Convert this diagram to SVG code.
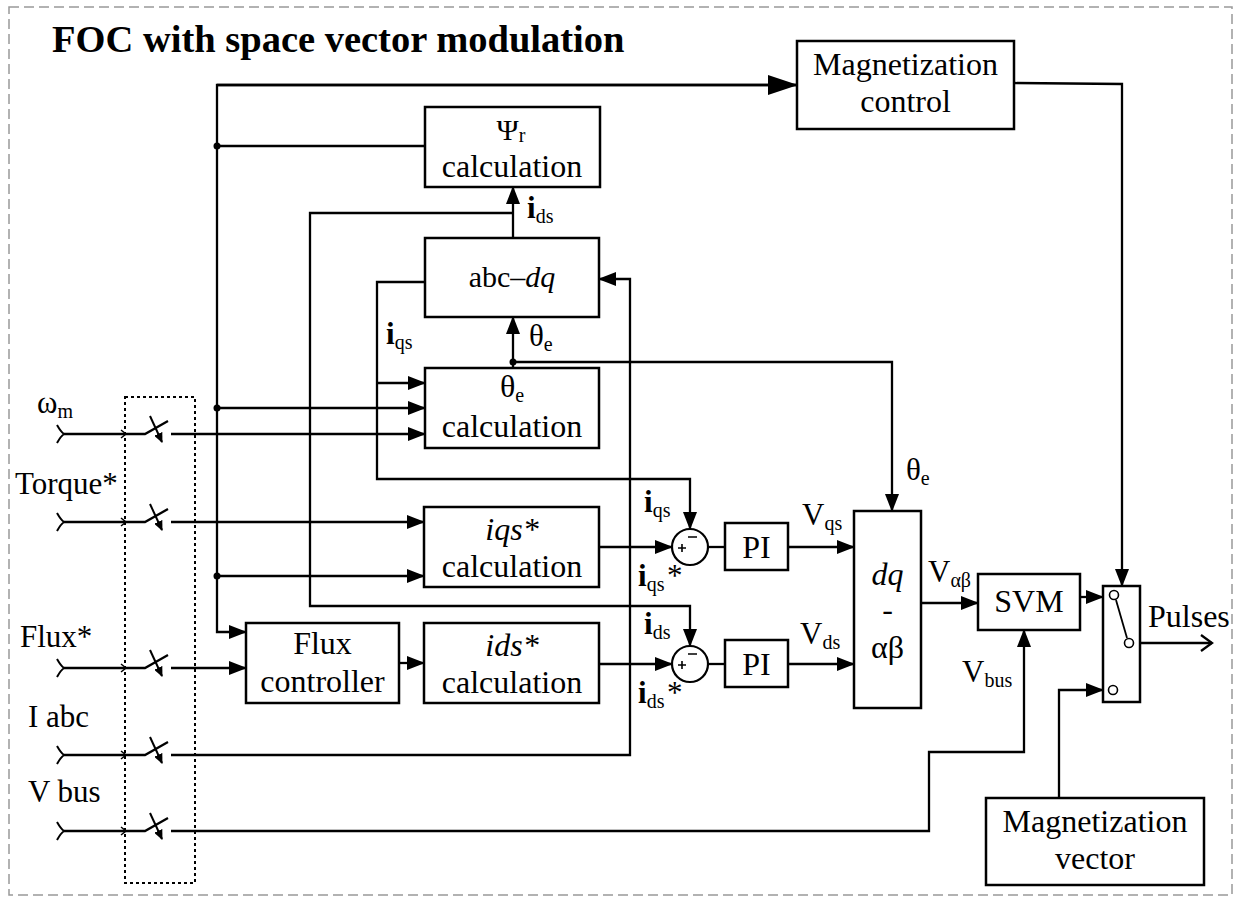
<svg xmlns="http://www.w3.org/2000/svg" width="1236" height="900" viewBox="0 0 1236 900">
<style>
text{font-family:"Liberation Serif","Times New Roman",serif;fill:#000;}
.t{font-size:32px;text-anchor:middle;}
.lb{font-size:31px;}
.sub{font-size:20px;}
.box{fill:#fff;stroke:#000;stroke-width:2.5;}
.c{fill:none;stroke:#000;stroke-width:2.3;}
.a{marker-end:url(#ah);}
</style>
<defs>
<marker id="ah" markerUnits="userSpaceOnUse" markerWidth="18" markerHeight="14" refX="17" refY="7" orient="auto"><path d="M0,0 L18,7 L0,14 z" fill="#000"/></marker>
<marker id="ahb" markerUnits="userSpaceOnUse" markerWidth="30" markerHeight="20" refX="29" refY="10" orient="auto"><path d="M0,0 L30,10 L0,20 z" fill="#000"/></marker>
<marker id="ahs" markerUnits="userSpaceOnUse" markerWidth="10" markerHeight="9" refX="9" refY="4.5" orient="auto"><path d="M0,0 L10,4.5 L0,9 z" fill="#000"/></marker>
<g id="inputsym"><path d="M-7,-9 Q-3,-2 0,0 Q-3,2 -7,9" fill="none" stroke="#000" stroke-width="2"/></g>
</defs>
<rect width="1236" height="900" fill="#fff"/>
<rect x="9" y="7" width="1223" height="888" fill="none" stroke="#999" stroke-width="1.5" stroke-dasharray="10,5"/>
<text x="52" y="52" style="font-size:38.5px;font-weight:bold">FOC with space vector modulation</text>

<g id="connectors">
<path class="c" d="M797,85 H217 V632 H246" style="marker-end:url(#ah)"/>
<path class="c" d="M217,85 H797" style="marker-end:url(#ahb)"/>
<path class="c" d="M217,146 H425"/>
<path class="c a" d="M217,408 H425"/>
<path class="c a" d="M217,576 H424"/>
<path class="c a" d="M171,434 H425"/>
<path class="c a" d="M171,522 H424"/>
<path class="c a" d="M171,668 H246"/>
<path class="c a" d="M171,755 H630 V279 H599"/>
<path class="c a" d="M171,831 H929 V752 H1024 V630"/>
<path class="c a" d="M513,238 V187"/>
<path class="c a" d="M513,213 H310 V606 H690 V646"/>
<path class="c a" d="M425,282 H377 V479 H690 V529"/>
<path class="c a" d="M377,383 H425"/>
<path class="c a" d="M513,368 V317"/>
<path class="c a" d="M513,362 H892 V511"/>
<path class="c a" d="M599,547 H672"/>
<path class="c" d="M708,547 H725"/>
<path class="c a" d="M788,547 H854"/>
<path class="c a" d="M599,664 H672"/>
<path class="c" d="M708,664 H725"/>
<path class="c a" d="M788,664 H854"/>
<path class="c a" d="M399,663 H424"/>
<path class="c a" d="M921,603 H978"/>
<path class="c a" d="M1080,597 H1103"/>
<path class="c a" d="M1014,83 L1122,84 V586"/>
<path class="c a" d="M1059,798 V690 H1103"/>
<path class="c" d="M1140,643 H1212"/>
<path class="c" d="M1201,635 L1212,643 L1201,651"/>
<circle cx="217" cy="146" r="3.5"/>
<circle cx="217" cy="408" r="3.5"/>
<circle cx="217" cy="576" r="3.5"/>
<circle cx="513" cy="362" r="3.5"/>
</g>

<g id="input-switches">
<rect x="125" y="397" width="70" height="486" fill="none" stroke="#000" stroke-width="2" stroke-dasharray="3,3"/>
<g id="sw-omega" transform="translate(0,434)">
<use href="#inputsym" x="64"/>
<path class="c" d="M64,0 H145 L168,-13"/>
<path d="M121,-4 L126,0 L121,4" fill="none" stroke="#000" stroke-width="1.5"/>
<path d="M150,-18 L162,8" stroke="#000" stroke-width="2" style="marker-end:url(#ahs)"/>
</g>
<g id="sw-torque" transform="translate(0,522)">
<use href="#inputsym" x="64"/>
<path class="c" d="M64,0 H145 L168,-13"/>
<path d="M121,-4 L126,0 L121,4" fill="none" stroke="#000" stroke-width="1.5"/>
<path d="M150,-18 L162,8" stroke="#000" stroke-width="2" style="marker-end:url(#ahs)"/>
</g>
<g id="sw-flux" transform="translate(0,668)">
<use href="#inputsym" x="64"/>
<path class="c" d="M64,0 H145 L168,-13"/>
<path d="M121,-4 L126,0 L121,4" fill="none" stroke="#000" stroke-width="1.5"/>
<path d="M150,-18 L162,8" stroke="#000" stroke-width="2" style="marker-end:url(#ahs)"/>
</g>
<g id="sw-iabc" transform="translate(0,755)">
<use href="#inputsym" x="64"/>
<path class="c" d="M64,0 H145 L168,-13"/>
<path d="M121,-4 L126,0 L121,4" fill="none" stroke="#000" stroke-width="1.5"/>
<path d="M150,-18 L162,8" stroke="#000" stroke-width="2" style="marker-end:url(#ahs)"/>
</g>
<g id="sw-vbus" transform="translate(0,831)">
<use href="#inputsym" x="64"/>
<path class="c" d="M64,0 H145 L168,-13"/>
<path d="M121,-4 L126,0 L121,4" fill="none" stroke="#000" stroke-width="1.5"/>
<path d="M150,-18 L162,8" stroke="#000" stroke-width="2" style="marker-end:url(#ahs)"/>
</g>
<text class="lb" x="37" y="413">ω<tspan class="sub" dy="5">m</tspan></text>
<text class="lb" x="15" y="494">Torque*</text>
<text class="lb" x="20" y="647">Flux*</text>
<text class="lb" x="28" y="727">I abc</text>
<text class="lb" x="28" y="802">V bus</text>
</g>

<g id="mag-control">
<rect class="box" x="797" y="41" width="217" height="88"/>
<text class="t" x="905.5" y="75">Magnetization</text>
<text class="t" x="905.5" y="112">control</text>
</g>
<g id="psi-calc">
<rect class="box" x="425" y="107" width="175" height="80"/>
<text class="t" x="511" y="140" style="font-size:30px">Ψ<tspan class="sub" dy="2">r</tspan></text>
<text class="t" x="512" y="177">calculation</text>
</g>
<g id="abc-dq">
<rect class="box" x="425" y="238" width="174" height="79"/>
<text class="t" x="512" y="287" style="font-size:30px">abc–<tspan font-style="italic">dq</tspan></text>
</g>
<g id="theta-calc">
<rect class="box" x="425" y="368" width="174" height="80"/>
<text class="t" x="512" y="397">θ<tspan class="sub" dy="5">e</tspan></text>
<text class="t" x="512" y="437">calculation</text>
</g>
<g id="iqs-calc">
<rect class="box" x="424" y="507" width="175" height="80"/>
<text class="t" x="512" y="540" font-style="italic">iqs*</text>
<text class="t" x="512" y="577">calculation</text>
</g>
<g id="flux-controller">
<rect class="box" x="246" y="623" width="153" height="80"/>
<text class="t" x="322.5" y="654">Flux</text>
<text class="t" x="322.5" y="692">controller</text>
</g>
<g id="ids-calc">
<rect class="box" x="424" y="623" width="175" height="80"/>
<text class="t" x="512" y="656" font-style="italic">ids*</text>
<text class="t" x="512" y="693">calculation</text>
</g>
<g id="sum-q">
<circle cx="690" cy="547" r="18" fill="#fff" stroke="#000" stroke-width="2.2"/>
<path d="M688,537 H697 M678,548 H686 M682,544 V552" stroke="#000" stroke-width="1.6"/>
</g>
<g id="sum-d">
<circle cx="690" cy="664" r="18" fill="#fff" stroke="#000" stroke-width="2.2"/>
<path d="M688,654 H697 M678,665 H686 M682,661 V669" stroke="#000" stroke-width="1.6"/>
</g>
<g id="pi-q">
<rect class="box" x="725" y="523" width="63" height="47"/>
<text class="t" x="756.5" y="558">PI</text>
</g>
<g id="pi-d">
<rect class="box" x="725" y="640" width="63" height="47"/>
<text class="t" x="756.5" y="675">PI</text>
</g>
<g id="dq-ab">
<rect class="box" x="854" y="511" width="67" height="197"/>
<text class="t" x="887.5" y="585" font-style="italic">dq</text>
<text class="t" x="887.5" y="620">-</text>
<text class="t" x="887.5" y="658">αβ</text>
</g>
<g id="svm">
<rect class="box" x="978" y="574" width="102" height="56"/>
<text class="t" x="1029" y="612">SVM</text>
</g>
<g id="selector">
<rect class="box" x="1103" y="586" width="37" height="116"/>
<circle cx="1114" cy="595" r="4.5" fill="#fff" stroke="#000" stroke-width="1.6"/>
<circle cx="1129" cy="643" r="4.5" fill="#fff" stroke="#000" stroke-width="1.6"/>
<circle cx="1113" cy="690" r="4.5" fill="#fff" stroke="#000" stroke-width="1.6"/>
<path d="M1116,600 L1127,638" stroke="#000" stroke-width="1.8"/>
<text x="1148" y="627" style="font-size:32px">Pulses</text>
</g>
<g id="mag-vector">
<rect class="box" x="986" y="798" width="218" height="87"/>
<text class="t" x="1095" y="832">Magnetization</text>
<text class="t" x="1095" y="869">vector</text>
</g>

<g id="signal-labels">
<text class="lb" x="527" y="218"><tspan font-weight="bold">i</tspan><tspan class="sub" dy="5">ds</tspan></text>
<text class="lb" x="386" y="344"><tspan font-weight="bold">i</tspan><tspan class="sub" dy="5">qs</tspan></text>
<text class="lb" x="529" y="346">θ<tspan class="sub" dy="5">e</tspan></text>
<text class="lb" x="906" y="480">θ<tspan class="sub" dy="5">e</tspan></text>
<text class="lb" x="644" y="512"><tspan font-weight="bold">i</tspan><tspan class="sub" dy="5">qs</tspan></text>
<text class="lb" x="638" y="586"><tspan font-weight="bold">i</tspan><tspan class="sub" dy="5">qs</tspan></text>
<text class="lb" x="667" y="586">*</text>
<text class="lb" x="644" y="634"><tspan font-weight="bold">i</tspan><tspan class="sub" dy="5">ds</tspan></text>
<text class="lb" x="638" y="703"><tspan font-weight="bold">i</tspan><tspan class="sub" dy="5">ds</tspan></text>
<text class="lb" x="667" y="703">*</text>
<text class="lb" x="802" y="525">V<tspan class="sub" dy="5">qs</tspan></text>
<text class="lb" x="800" y="644">V<tspan class="sub" dy="5">ds</tspan></text>
<text class="lb" x="928" y="582">V<tspan class="sub" dy="5">αβ</tspan></text>
<text class="lb" x="962" y="682">V<tspan class="sub" dy="5">bus</tspan></text>
</g>
</svg>
